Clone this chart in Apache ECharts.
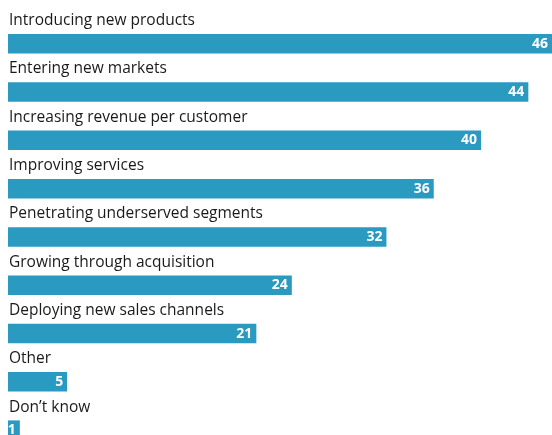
<!DOCTYPE html>
<html>
<head>
<meta charset="utf-8">
<script src="https://cdn.jsdelivr.net/npm/echarts@6/dist/echarts.min.js"></script>
<style>
html,body{margin:0;padding:0;background:#fff;}
#c{width:552px;height:435px;}
</style>
</head>
<body>
<div id="c"></div>
<script>
const categories = [
  "Introducing new products",
  "Entering new markets",
  "Increasing revenue per customer",
  "Improving services",
  "Penetrating underserved segments",
  "Growing through acquisition",
  "Deploying new sales channels",
  "Other",
  "Don\u2019t know"
];
const values = [46, 44, 40, 36, 32, 24, 21, 5, 1];

const chart = echarts.init(document.getElementById('c'), null, {renderer: 'canvas'});
chart.setOption({
  animation: false,
  backgroundColor: '#ffffff',
  grid: {left: 8, right: 0, top: 19.6, height: 434.7, containLabel: false, outerBoundsMode: 'none'},
  xAxis: {
    type: 'value', min: 0, max: 46,
    show: false
  },
  yAxis: {
    type: 'category',
    data: categories,
    inverse: true,
    axisLine: {show: false},
    axisTick: {show: false},
    splitLine: {show: false},
    axisLabel: {
      inside: true,
      margin: 1,
      align: 'left',
      verticalAlign: 'bottom',
      lineHeight: 20,
      padding: [0, 0, 13, 0],
      fontFamily: 'Open Sans',
      fontSize: 15.5,
      color: '#1a1a1a'
    }
  },
  series: [{
    type: 'bar',
    data: values,
    barWidth: 19.5,
    itemStyle: {color: '#2a9ac0'},
    label: {
      show: true,
      position: 'insideRight',
      distance: 4,
      color: '#ffffff',
      fontWeight: 'bold',
      fontFamily: 'Open Sans',
      fontSize: 14
    }
  }]
});
</script>
</body>
</html>
